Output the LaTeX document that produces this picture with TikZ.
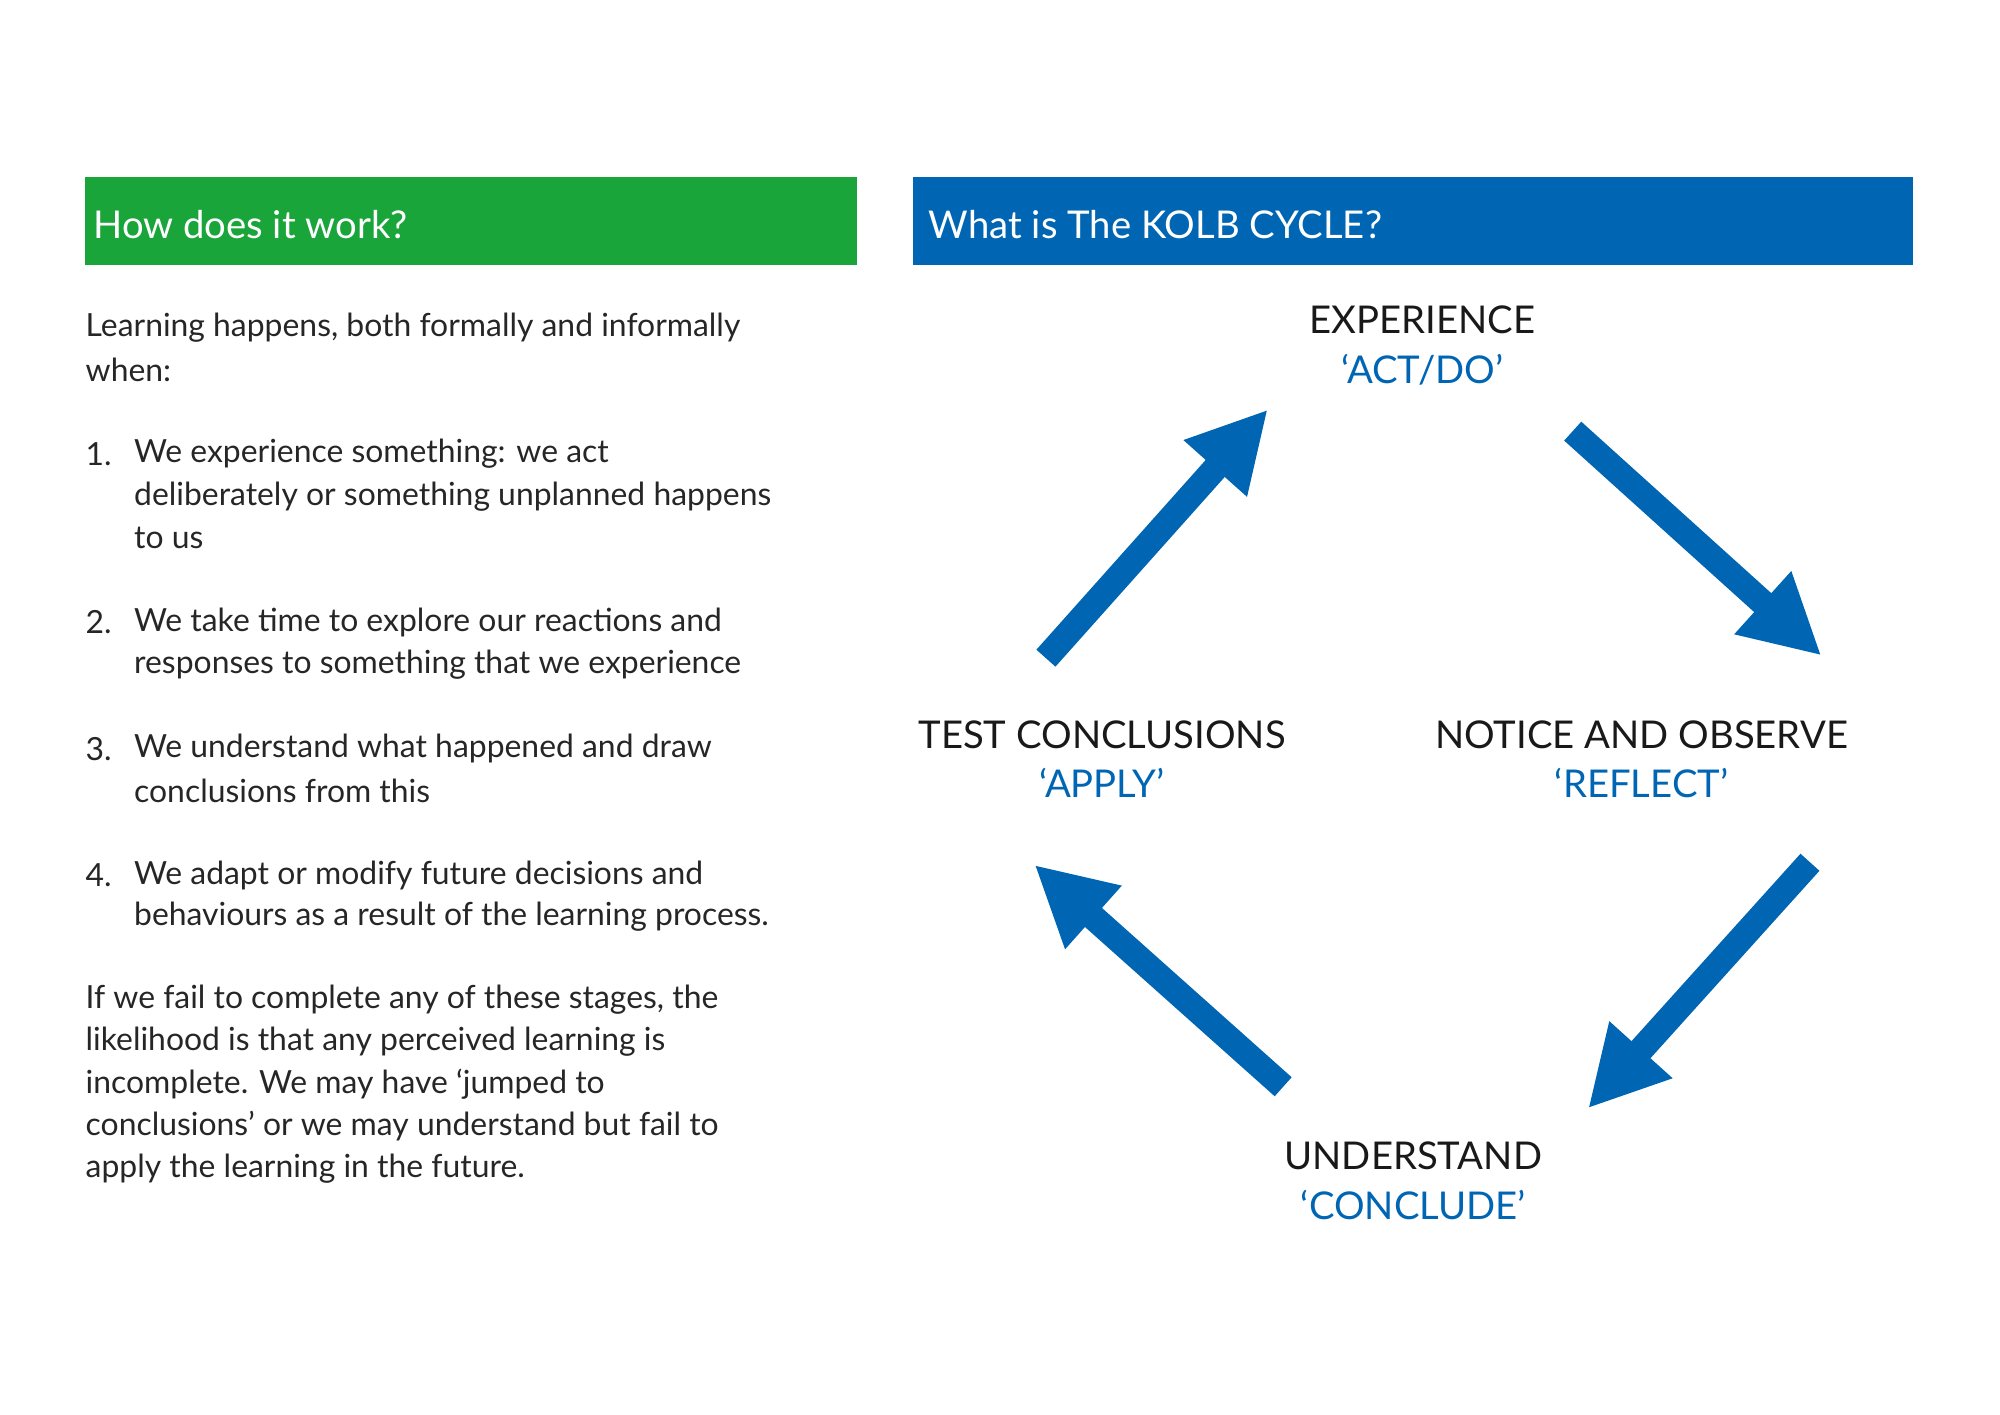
\documentclass[tikz,border=0pt]{standalone}
\usepackage{fontspec}
\setmainfont{Lato}
\usetikzlibrary{arrows.meta}
\definecolor{hgreen}{HTML}{1AA53A}
\definecolor{hblue}{HTML}{0066B3}
\begin{document}
\begin{tikzpicture}[x=1pt,y=-1pt,
  body/.style={anchor=west,inner sep=0,font=\fontsize{25}{30}\selectfont,text=black!85},
  head/.style={anchor=west,inner sep=0,font=\fontsize{30}{36}\selectfont,text=white},
  lab/.style={inner sep=0,font=\fontsize{30}{36}\selectfont,text=black!90},
  sub/.style={inner sep=0,font=\fontsize{30}{36}\selectfont,text=hblue},
  arr/.style={draw=hblue,line width=20pt,-{Triangle[width=62pt,length=62pt]}}]
\useasboundingbox (0,0) rectangle (1568,1109);
\fill[hgreen] (67,139) rectangle (672,208);
\fill[hblue] (716,139) rectangle (1500,208);
\node[head] (h1) at (73,176) {How does it work?};
\node[head] (h2) at (728,176) {What is The KOLB CYCLE?};
\node[body] (t1) at (67,257) {Learning happens, both formally and informally};
\node[body] (t2) at (67,290) {when:};
\node[body] (n1) at (67,356) {1.};
\node[body] (a1) at (105,356) {We experience something: we act};
\node[body] (a2) at (105,389) {deliberately or something unplanned happens};
\node[body] (a3) at (105,422) {to us};
\node[body] (n2) at (67,488) {2.};
\node[body] (b1) at (105,488) {We take time to explore our reactions and};
\node[body] (b2) at (105,521) {responses to something that we experience};
\node[body] (n3) at (67,587) {3.};
\node[body] (c1) at (105,587) {We understand what happened and draw};
\node[body] (c2) at (105,620) {conclusions from this};
\node[body] (n4) at (67,686) {4.};
\node[body] (d1) at (105,686) {We adapt or modify future decisions and};
\node[body] (d2) at (105,719) {behaviours as a result of the learning process.};
\node[body] (e1) at (67,784) {If we fail to complete any of these stages, the};
\node[body] (e2) at (67,817) {likelihood is that any perceived learning is};
\node[body] (e3) at (67,850) {incomplete. We may have ‘jumped to};
\node[body] (e4) at (67,883) {conclusions’ or we may understand but fail to};
\node[body] (e5) at (67,916) {apply the learning in the future.};
\node[lab] (ex) at (1115,251) {EXPERIENCE};
\node[sub] (exs) at (1115,290) {‘ACT/DO’};
\node[lab] (tc) at (864,576) {TEST CONCLUSIONS};
\node[sub] (tcs) at (864,614) {‘APPLY’};
\node[lab] (no) at (1287,576) {NOTICE AND OBSERVE};
\node[sub] (nos) at (1287,614) {‘REFLECT’};
\node[lab] (un) at (1108,906) {UNDERSTAND};
\node[sub] (uns) at (1108,945) {‘CONCLUDE’};
\coordinate (p1s) at (820,516); \coordinate (p1e) at (994,321);
\coordinate (p2s) at (1233,338); \coordinate (p2e) at (1428,514);
\coordinate (p3s) at (1419,676); \coordinate (p3e) at (1245,869);
\coordinate (p4s) at (1006,852); \coordinate (p4e) at (811,678);
\draw[arr] (p1s) -- (p1e);
\draw[arr] (p2s) -- (p2e);
\draw[arr] (p3s) -- (p3e);
\draw[arr] (p4s) -- (p4e);
\end{tikzpicture}
\end{document}
